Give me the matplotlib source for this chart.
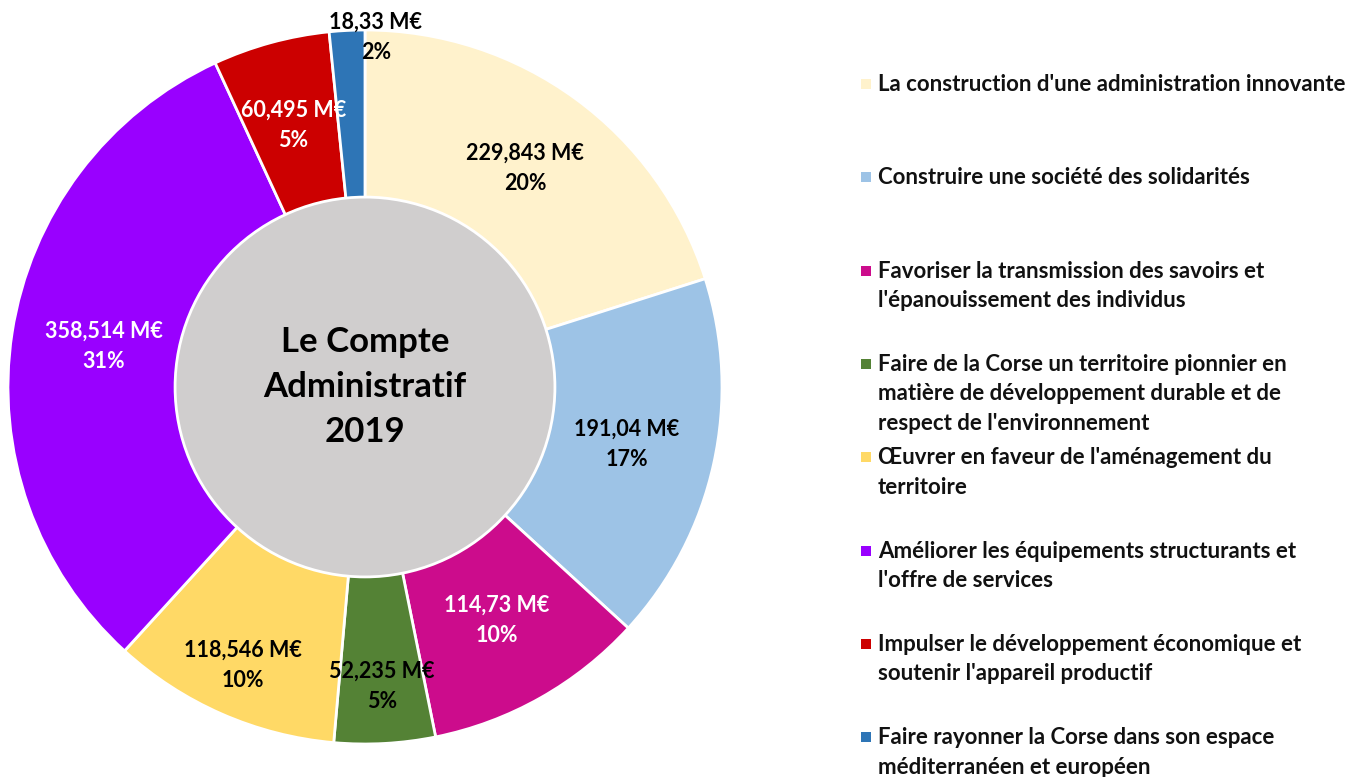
import numpy as np
import matplotlib
matplotlib.use("Agg")
import matplotlib.pyplot as plt
from matplotlib.patches import Circle, Rectangle

plt.rcParams['font.family'] = ['Lato', 'DejaVu Sans']

categories = [
    "La construction d'une administration innovante",
    "Construire une société des solidarités",
    "Favoriser la transmission des savoirs et\nl'épanouissement des individus",
    "Faire de la Corse un territoire pionnier en\nmatière de développement durable et de\nrespect de l'environnement",
    "Œuvrer en faveur de l'aménagement du\nterritoire",
    "Améliorer les équipements structurants et\nl'offre de services",
    "Impulser le développement économique et\nsoutenir l'appareil productif",
    "Faire rayonner la Corse dans son espace\nméditerranéen et européen",
]
values = [229.843, 191.04, 114.73, 52.235, 118.546, 358.514, 60.495, 18.33]
colors = ['#FFF2CC', '#9DC3E6', '#CC0C8C', '#548235', '#FFD966', '#9900FF', '#CC0000', '#2E75B6']
label_colors = ['black', 'black', 'white', 'black', 'black', 'white', 'white', 'black']
center_title = "Le Compte\nAdministratif\n2019"

# label placement (radius in axes units, small x nudge)
label_r = [0.76, 0.75, 0.75, 0.84, 0.85, 0.74, 0.76, 0.98]
label_dx = [0, 0, 0, 0, 0, 0, 0, 0.08]

W, H = 1355, 777
fig = plt.figure(figsize=(W / 100, H / 100), dpi=100)

cx, cy, R = 365, 387, 357
ax = fig.add_axes([(cx - R) / W, (H - cy - R) / H, 2 * R / W, 2 * R / H])
ax.axis('off')

wedges, _ = ax.pie(values, colors=colors, startangle=90, counterclock=False, radius=1,
                   wedgeprops=dict(edgecolor='white', linewidth=2))
ax.set_xlim(-1, 1)
ax.set_ylim(-1, 1)

hole = Circle((0, 0), 0.532, facecolor='#D0CECE', edgecolor='white', linewidth=2, zorder=3)
ax.add_patch(hole)
ax.text(0, 0, center_title, ha='center', va='center', fontsize=25, fontweight='bold',
        linespacing=1.5, zorder=4)

total = sum(values)
for w, v, col, r, dx in zip(wedges, values, label_colors, label_r, label_dx):
    ang = np.deg2rad((w.theta1 + w.theta2) / 2)
    pct = round(v / total * 100)
    txt = f"{str(v).replace('.', ',')} M€\n{pct}%"
    ax.text(r * np.cos(ang) + dx, r * np.sin(ang), txt, ha='center', va='center',
            fontsize=15.5, fontweight='bold', color=col, linespacing=1.55, zorder=5,
            clip_on=False)

# legend drawn as Excel-like column on the right
leg_top = 84
leg_step = 93.3
for i, (name, col) in enumerate(zip(categories, colors)):
    y = leg_top + i * leg_step
    fig.patches.append(Rectangle((861 / W, 1 - (y + 5) / H), 10 / W, 10 / H,
                                 transform=fig.transFigure, facecolor=col, edgecolor='none'))
    fig.text(878 / W, 1 - (y - 10) / H, name, ha='left', va='top', fontsize=16,
             fontweight='bold', color='#111111', linespacing=1.5)

fig.savefig('out.png', dpi=100, facecolor='white')
